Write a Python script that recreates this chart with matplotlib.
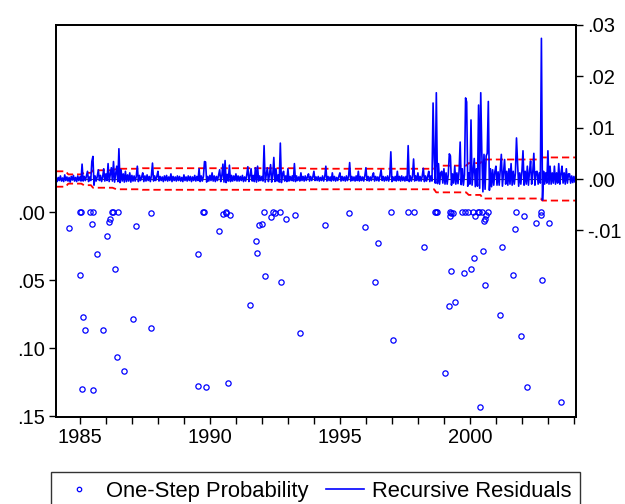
import matplotlib
matplotlib.use("Agg")
import matplotlib.pyplot as plt
from matplotlib.lines import Line2D
from matplotlib.ticker import FixedLocator, MultipleLocator
import numpy as np

plt.rcParams['font.family'] = ['Liberation Sans', 'DejaVu Sans']

# recursive residuals, 24 obs per year starting 1984.08, values in 1e-4
resid_start = 1984.08
resid_step = 1 / 24
resid_e4 = [
    4, -5, 3, -3, 6, -4, 2, -5, 8, -3, 4, -4, 3, -6, 5, -2, 7, -4, 3, -5, 6, -3, 4, -4,          # 1984
    29, -4, 5, -3, 6, 15, -5, 4, -3, 34, 44, -12, 6, -4, 5, 18, -3, 7, -5, 4, 20, -4, 10, -3,    # 1985
    30, -5, 8, 22, -4, 34, -6, 9, 25, -5, 59, -7, 18, -4, 10, -6, 15, -5, 8, -4, 12, -6, 7, -4,  # 1986
    6, -4, 5, 25, -5, 7, -3, 4, 12, -5, 6, -4, 8, -3, 5, -5, 7, 31, -4, 6, -3, 5, 15, -4,        # 1987
    5, -3, 4, -5, 6, -3, 7, -4, 4, -3, 10, -5, 5, -3, 4, -4, 6, -3, 5, -4, 3, -5, 8, -3,         # 1988
    4, -4, 6, -3, 5, -5, 4, -3, 7, -4, 5, -3, 20, -5, 6, -4, 5, 34, 33, -6, 5, -4, 7, -3,        # 1989
    12, -4, 6, -5, 5, -3, 8, 18, -5, 6, 29, -6, 36, -7, 9, -4, 27, -5, 7, -4, 6, -3, 10, -4,     # 1990
    6, -4, 5, -3, 7, -5, 4, -4, 8, 24, -5, 6, 20, -4, 7, -5, 22, -6, 25, -4, 6, -3, 5, -4,       # 1991
    65, -6, 8, 22, -5, 9, 28, -6, 7, 42, -5, 20, -4, 8, -6, 70, -7, 9, 15, -4, 6, -5, 20, -4,    # 1992
    5, -3, 6, -4, 30, -5, 6, -3, 4, -4, 12, -3, 5, -4, 6, -3, 4, 10, -4, 5, -3, 4, 15, -3,       # 1993
    4, -3, 5, -4, 3, -3, 6, -4, 4, 25, -4, 5, -3, 4, -4, 12, -3, 5, -4, 3, -3, 5, 12, -4,        # 1994
    5, -3, 4, -4, 6, -3, 5, 32, -4, 5, -3, 4, -4, 6, -3, 15, -4, 5, -3, 4, -4, 6, 22, -3,        # 1995
    5, -4, 4, -3, 6, 12, -4, 5, -3, 4, -4, 6, 18, -3, 5, -4, 4, -3, 6, -4, 5, 53, -5, 4,         # 1996
    -3, 5, -4, 15, -3, 5, -4, 6, -3, 4, -4, 5, -3, 65, -5, 6, -4, 5, 39, -4, 6, -3, 12, -4,      # 1997
    5, -4, 6, 21, -5, 6, -4, 5, 15, -5, 6, -4, 148, 40, -8, 168, -9, 30, -10, 12, 15, -8, 20, -10,      # 1998
    12, -10, 8, 49, 45, -12, 10, -8, 25, -10, 12, -9, 15, 72, -11, 20, -12, 8, 158, 150, -14, 12, -10, 115,  # 1999
    -12, 15, 40, -15, 20, -14, 144, -18, 168, 50, -25, 48, -20, 45, 50, 151, -22, 20, -15, 18, -12, 14, 25, -12,  # 2000
    14, -12, 18, 48, -14, 12, 38, -10, 15, -12, 20, -10, 30, -12, 15, -10, 12, 80, 30, -14, 12, -10, 15, 55,     # 2001
    -12, 15, -10, 25, -12, 14, 35, -10, 12, 50, -12, 14, 15, -10, 12, -8, 274, -41, 15, -10, 12, -8, 55, -10,    # 2002
    25, -10, 12, -8, 25, -10, 12, -8, 30, -10, 10, 25, -8, 12, -10, 20, -8, 10, 10, -8, 6, -7, 5, -6,            # 2003
    -6,
]

# +/- 2 S.E. band
band_years = [1984.08, 1984.45, 1984.55, 1985.05, 1985.15, 1985.42, 1985.5, 1986.25, 1986.4,
              1987.3, 1987.4, 1993.7, 1993.8, 1998.62, 1998.7, 1999.85, 1999.95, 2000.4,
              2000.5, 2002.72, 2002.78, 2004.08]
band_se2 = [0.0015, 0.0015, 0.0009, 0.0009, 0.0012, 0.0012, 0.0017, 0.0017, 0.0020,
            0.0020, 0.0021, 0.0021, 0.0020, 0.0020, 0.0026, 0.0026, 0.0031, 0.0031,
            0.0038, 0.0038, 0.0042, 0.0042]

# one-step probabilities
prob_years = [1984.58, 1985.0, 1985.02, 1985.0, 1985.06, 1985.12, 1985.18, 1985.38, 1985.49,
              1985.46, 1985.49, 1985.65, 1985.88, 1986.05, 1986.11, 1986.15, 1986.25, 1986.28,
              1986.35, 1986.43, 1986.46, 1986.68, 1987.03, 1987.17, 1987.72, 1987.75,
              1989.54, 1989.55, 1989.74, 1989.77, 1989.86, 1990.35, 1990.51, 1990.6, 1990.63,
              1990.68, 1990.78, 1991.55, 1991.77, 1991.8, 1991.88, 1992.0, 1992.06, 1992.12,
              1992.34, 1992.43, 1992.49, 1992.69, 1992.74, 1992.94, 1993.26, 1993.45, 1994.43,
              1995.35, 1995.95, 1996.35, 1996.46, 1996.95, 1997.02, 1997.6, 1997.86, 1998.23,
              1998.65, 1998.69, 1998.74, 1999.02, 1999.18, 1999.22, 1999.26, 1999.25, 1999.28,
              1999.34, 1999.43, 1999.68, 1999.77, 1999.82, 1999.94, 2000.02, 2000.12, 2000.17,
              2000.2, 2000.32, 2000.35, 2000.38, 2000.46, 2000.49, 2000.54, 2000.57, 2000.62,
              2000.58, 2000.71, 2001.14, 2001.25, 2001.66, 2001.72, 2001.78, 2001.98, 2002.08,
              2002.2, 2002.52, 2002.74, 2002.75, 2002.78, 2003.05, 2003.49]
prob_values = [0.0116, 0.0, 0.0, 0.046, 0.130, 0.077, 0.087, 0.0, 0.0,
               0.0089, 0.131, 0.031, 0.087, 0.0175, 0.0074, 0.0054, 0.0, 0.0,
               0.0416, 0.1067, 0.0, 0.117, 0.079, 0.0106, 0.085, 0.0007,
               0.031, 0.128, 0.0, 0.0, 0.129, 0.0138, 0.0012, 0.0, 0.0005,
               0.126, 0.002, 0.068, 0.021, 0.030, 0.0096, 0.0086, 0.0, 0.047,
               0.0034, 0.0, 0.0008, 0.0, 0.0515, 0.0052, 0.0025, 0.089, 0.0096,
               0.0008, 0.0108, 0.0515, 0.023, 0.0, 0.094, 0.0, 0.0, 0.0254,
               0.0, 0.0, 0.0, 0.118, 0.069, 0.0, 0.0005, 0.003, 0.043,
               0.001, 0.066, 0.0, 0.045, 0.0, 0.0, 0.042, 0.0, 0.034,
               0.003, 0.0, 0.0, 0.1436, 0.0, 0.029, 0.0067, 0.0054, 0.0025,
               0.0535, 0.0, 0.076, 0.0254, 0.0466, 0.0123, 0.0, 0.091, 0.003,
               0.1286, 0.0079, 0.0025, 0.0, 0.050, 0.008, 0.140]

resid = np.array(resid_e4) * 1e-4
resid_years = resid_start + np.arange(len(resid)) * resid_step
se2 = np.array(band_se2)

fig = plt.figure(figsize=(6.25, 5.04), dpi=100)
ax_r = fig.add_axes([56 / 625, 1 - 417 / 504, 520 / 625, 392 / 504])
ax_l = ax_r.twinx()
# residuals live on the right, probabilities on the left
ax_r.yaxis.tick_right()
ax_l.yaxis.tick_left()

ax_r.axhline(0, color='#444444', lw=0.8, zorder=1)
ax_r.plot(band_years, se2, color='red', lw=1.3, ls=(0, (4, 2.2)), zorder=2)
ax_r.plot(band_years, -se2, color='red', lw=1.3, ls=(0, (4, 2.2)), zorder=2)
ax_r.plot(resid_years, resid, color='#0000ff', lw=1.2, zorder=3)

ax_l.plot(prob_years, prob_values, ls='none', marker='o', ms=3.8, mfc='none',
          mec='#0000ff', mew=0.9)

ax_r.set_xlim(1984.077, 2004.077)
ax_r.set_ylim(-0.04636, 0.030)
ax_l.set_ylim(0.1507, -0.1375)

ax_r.xaxis.set_major_locator(FixedLocator([1985, 1990, 1995, 2000]))
ax_r.xaxis.set_minor_locator(MultipleLocator(1))
ax_r.set_xticklabels(['1985', '1990', '1995', '2000'])

ax_r.set_yticks([0.03, 0.02, 0.01, 0.0, -0.01])
ax_r.set_yticklabels(['.03', '.02', '.01', '.00', '-.01'])
ax_l.set_yticks([0.0, 0.05, 0.10, 0.15])
ax_l.set_yticklabels(['.00', '.05', '.10', '.15'])

for a in (ax_r, ax_l):
    for sp in a.spines.values():
        sp.set_linewidth(1.3)
    a.tick_params(axis='both', which='major', direction='out', length=5, width=1.0,
                  labelsize=14.5, pad=3)
    a.tick_params(axis='x', which='minor', direction='out', length=5, width=1.0)

handles = [
    Line2D([], [], ls='none', marker='o', ms=3.2, mfc='none', mec='#0000ff', mew=0.9),
    Line2D([], [], color='#0000ff', lw=1.2),
]
fig.legend(handles, ['One-Step Probability', 'Recursive Residuals'],
           loc='upper center', bbox_to_anchor=(315.5 / 625, 1 - 472 / 504), ncol=2,
           frameon=True, fancybox=False, edgecolor='black', fontsize=15.8,
           handlelength=1.75, handletextpad=0.36, columnspacing=0.8, borderpad=0.4,
           borderaxespad=0)
fig.legends[0].get_frame().set_linewidth(1.0)

fig.savefig('out.png', dpi=100)
